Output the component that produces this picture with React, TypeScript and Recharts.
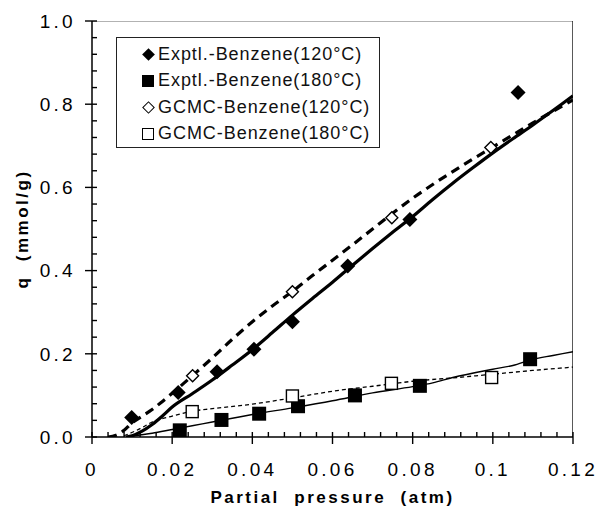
import React from 'react';
import { ComposedChart, Line, Scatter, XAxis, YAxis, Legend } from 'recharts';

// measured points (pressure in atm, uptake in mmol/g)
const exptl120P = [0.0099, 0.0215, 0.0312, 0.0404, 0.05, 0.0638, 0.0793, 0.1063];
const exptl120Q = [0.047, 0.107, 0.157, 0.211, 0.277, 0.411, 0.523, 0.828];
const exptl180P = [0.0219, 0.0323, 0.0417, 0.0514, 0.0656, 0.0818, 0.1093];
const exptl180Q = [0.016, 0.041, 0.056, 0.074, 0.1, 0.123, 0.187];
const gcmc120P = [0.0251, 0.05, 0.0748, 0.0995];
const gcmc120Q = [0.147, 0.349, 0.527, 0.696];
const gcmc180P = [0.025, 0.05, 0.0747, 0.0997];
const gcmc180Q = [0.061, 0.0986, 0.129, 0.143];

// fitted curves
const fit120P = [0.0085, 0.01, 0.0125, 0.015, 0.0175, 0.02, 0.025, 0.03, 0.035, 0.04, 0.045, 0.05, 0.055, 0.06, 0.065, 0.07, 0.075, 0.08, 0.085, 0.09, 0.095, 0.1, 0.105, 0.11, 0.115, 0.12];
const fit120Q = [0, 0.003, 0.014, 0.03, 0.05, 0.072, 0.104, 0.137, 0.173, 0.21, 0.251, 0.293, 0.333, 0.372, 0.413, 0.453, 0.492, 0.53, 0.571, 0.61, 0.647, 0.683, 0.717, 0.75, 0.785, 0.82];
const sim120P = [0.004, 0.006, 0.008, 0.01, 0.0125, 0.015, 0.0175, 0.02, 0.025, 0.03, 0.035, 0.04, 0.045, 0.05, 0.055, 0.06, 0.065, 0.07, 0.075, 0.08, 0.085, 0.09, 0.095, 0.1, 0.105, 0.11, 0.115, 0.12];
const sim120Q = [0, 0.004, 0.016, 0.034, 0.05, 0.066, 0.085, 0.105, 0.147, 0.19, 0.235, 0.277, 0.315, 0.35, 0.388, 0.425, 0.462, 0.5, 0.538, 0.574, 0.607, 0.638, 0.668, 0.697, 0.726, 0.755, 0.783, 0.81];
const fit180P = [0.009, 0.01, 0.015, 0.02, 0.025, 0.03, 0.035, 0.04, 0.05, 0.06, 0.07, 0.08, 0.085, 0.09, 0.1, 0.105, 0.11, 0.115, 0.12];
const fit180Q = [0, 0.002, 0.009, 0.018, 0.027, 0.036, 0.045, 0.054, 0.07, 0.087, 0.106, 0.121, 0.13, 0.143, 0.163, 0.172, 0.187, 0.196, 0.205];
const sim180P = [0.008, 0.012, 0.015, 0.02, 0.025, 0.03, 0.04, 0.05, 0.06, 0.07, 0.075, 0.08, 0.09, 0.1, 0.11, 0.12];
const sim180Q = [0.003, 0.02, 0.036, 0.05, 0.062, 0.068, 0.079, 0.094, 0.11, 0.122, 0.128, 0.134, 0.142, 0.151, 0.16, 0.168];

const xTicks = [0, 0.02, 0.04, 0.06, 0.08, 0.1, 0.12];
const yTicks = [0, 0.2, 0.4, 0.6, 0.8, 1.0];
const xMinor = Array.from({ length: 31 }, (_, i) => +(i * 0.004).toFixed(3));
const yMinor = Array.from({ length: 26 }, (_, i) => +(i * 0.04).toFixed(2));

// plot frame (top and right edges), taken from the axis domains
const X_MAX = 0.12;
const Y_MAX = 1;
const frameTop = [{ x: 0, y: Y_MAX }, { x: X_MAX, y: Y_MAX }];
const frameRight = [{ x: X_MAX, y: 0 }, { x: X_MAX, y: Y_MAX }];

const legendItems = [
  { name: 'Exptl.-Benzene(120°C)', marker: 'diamond', filled: true },
  { name: 'Exptl.-Benzene(180°C)', marker: 'square', filled: true },
  { name: 'GCMC-Benzene(120°C)', marker: 'diamond', filled: false },
  { name: 'GCMC-Benzene(180°C)', marker: 'square', filled: false },
];

const pts = (xs: number[], ys: number[]) => xs.map((x, i) => ({ x, y: ys[i] }));
const isMajor = (list: number[], v: number) => list.some((t) => Math.abs(t - v) < 1e-9);

const FONT = '"Liberation Sans", Arial, sans-serif';
const tickFont = { fill: '#000', fontSize: 19, fontFamily: FONT, letterSpacing: 3.3 };
const labelStyle = { fill: '#000', fontSize: 17, fontWeight: 'bold', fontFamily: FONT, letterSpacing: 2.5, textAnchor: 'middle' } as any;

// tick marks drawn with the tick labels: 5px inside for every tick, 7px outside for labelled ones
function XTick(props: any) {
  const { x, y, payload } = props;
  const major = isMajor(xTicks, payload.value);
  return (
    <g>
      <path d={`M${x},${y - 5}L${x},${y + (major ? 7 : 0)}`} stroke="#000" strokeWidth={1.4} fill="none" />
      {major && (
        <text x={x} y={y + 26} dy="0.71em" textAnchor="middle" {...tickFont}>
          {String(payload.value)}
        </text>
      )}
    </g>
  );
}

function YTick(props: any) {
  const { x, y, payload } = props;
  const major = isMajor(yTicks, payload.value);
  return (
    <g>
      <path d={`M${x - (major ? 7 : 0)},${y}L${x + 5},${y}`} stroke="#000" strokeWidth={1.4} fill="none" />
      {major && (
        <text x={x - 16} y={y} dy="0.355em" textAnchor="end" {...tickFont}>
          {Number(payload.value).toFixed(1)}
        </text>
      )}
    </g>
  );
}

function Marker({ cx, cy, kind, filled, r }: { cx: number; cy: number; kind: string; filled: boolean; r: number }) {
  const fill = filled ? '#000' : '#fff';
  const sw = filled ? 0 : 1.4;
  if (kind === 'diamond') {
    return (
      <path
        d={`M${cx},${cy - r} L${cx + r},${cy} L${cx},${cy + r} L${cx - r},${cy} Z`}
        fill={fill}
        stroke="#000"
        strokeWidth={sw}
      />
    );
  }
  return <rect x={cx - r} y={cy - r} width={2 * r} height={2 * r} fill={fill} stroke="#000" strokeWidth={sw} />;
}

const shape = (kind: string, filled: boolean, r: number) => (p: any) =>
  <Marker cx={p.cx} cy={p.cy} kind={kind} filled={filled} r={r} />;

function LegendGlyph({ kind, filled }: { kind: string; filled: boolean }) {
  const size = kind === 'diamond' ? 9 : 12;
  return (
    <div style={{ width: 16, height: 16, marginLeft: 23, marginRight: 2, display: 'flex', alignItems: 'center', justifyContent: 'center' }}>
      <div
        style={{
          width: size,
          height: size,
          boxSizing: 'border-box',
          background: filled ? '#000' : '#fff',
          border: filled ? 'none' : '1.4px solid #000',
          transform: kind === 'diamond' ? 'rotate(45deg)' : undefined,
        }}
      />
    </div>
  );
}

function LegendBox() {
  return (
    <div
      style={{
        border: '1px solid #222',
        background: '#fff',
        width: 264,
        height: 111,
        boxSizing: 'border-box',
        paddingTop: 3,
        fontFamily: FONT,
        fontSize: 18,
        letterSpacing: 0.95,
        color: '#111',
      }}
    >
      {legendItems.map((it) => (
        <div key={it.name} style={{ height: 26.5, display: 'flex', alignItems: 'center' }}>
          <LegendGlyph kind={it.marker} filled={it.filled} />
          <span>{it.name}</span>
        </div>
      ))}
    </div>
  );
}

export default function App() {
  return (
    <div style={{ position: 'absolute', left: 0, top: 0, width: 600, height: 508, background: '#fff' }}>
      <ComposedChart width={600} height={508} margin={{ top: 21, right: 27, left: 0, bottom: 0 }}>
        <XAxis
          dataKey="x"
          type="number"
          domain={[0, X_MAX]}
          ticks={xMinor}
          interval={0}
          allowDataOverflow
          height={71}
          tickSize={0}
          tickMargin={0}
          tickLine={false}
          tick={<XTick />}
          axisLine={{ stroke: '#000', strokeWidth: 1.5 }}
          label={{ value: 'Partial\u00a0\u00a0pressure\u00a0\u00a0(atm)', position: 'insideBottom', offset: 5, style: labelStyle }}
        />
        <YAxis
          dataKey="y"
          type="number"
          domain={[0, Y_MAX]}
          ticks={yMinor}
          interval={0}
          allowDataOverflow
          width={92}
          tickSize={0}
          tickMargin={0}
          tickLine={false}
          tick={<YTick />}
          axisLine={{ stroke: '#000', strokeWidth: 1.5 }}
          label={{ value: 'q\u00a0\u00a0(mmol/g)', angle: -90, position: 'insideLeft', offset: 22, style: labelStyle }}
        />
        <Legend
          layout="vertical"
          align="center"
          verticalAlign="middle"
          wrapperStyle={{ left: 116, top: 37, width: 264, height: 111 }}
          content={() => <LegendBox />}
        />
        <Line data={frameTop} dataKey="y" type="linear" stroke="#666" strokeWidth={1} dot={false} isAnimationActive={false} />
        <Line data={frameRight} dataKey="y" type="linear" stroke="#000" strokeWidth={1.3} dot={false} isAnimationActive={false} />
        <Line data={pts(fit120P, fit120Q)} dataKey="y" type="monotone" stroke="#000" strokeWidth={3.2} dot={false} isAnimationActive={false} />
        <Line data={pts(sim120P, sim120Q)} dataKey="y" type="monotone" stroke="#000" strokeWidth={3.2} strokeDasharray="9 6" dot={false} isAnimationActive={false} />
        <Line data={pts(fit180P, fit180Q)} dataKey="y" type="monotone" stroke="#000" strokeWidth={1.4} dot={false} isAnimationActive={false} />
        <Line data={pts(sim180P, sim180Q)} dataKey="y" type="monotone" stroke="#000" strokeWidth={1.3} strokeDasharray="4 3" dot={false} isAnimationActive={false} />
        <Scatter data={pts(exptl120P, exptl120Q)} shape={shape('diamond', true, 7.5)} isAnimationActive={false} />
        <Scatter data={pts(exptl180P, exptl180Q)} shape={shape('square', true, 7)} isAnimationActive={false} />
        <Scatter data={pts(gcmc120P, gcmc120Q)} shape={shape('diamond', false, 6)} isAnimationActive={false} />
        <Scatter data={pts(gcmc180P, gcmc180Q)} shape={shape('square', false, 6)} isAnimationActive={false} />
      </ComposedChart>
    </div>
  );
}
